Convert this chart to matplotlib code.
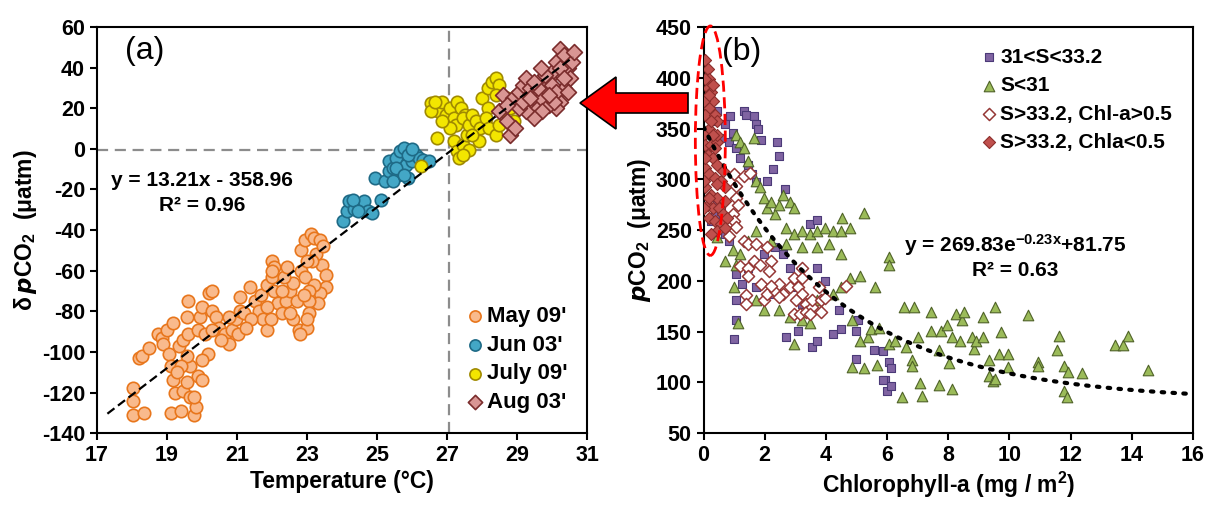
import matplotlib
matplotlib.use('Agg')
import matplotlib.pyplot as plt
from matplotlib.patches import Ellipse, FancyArrow
import numpy as np

plt.rcParams['font.family'] = ['Liberation Sans', 'DejaVu Sans']
plt.rcParams['font.weight'] = 'bold'
plt.rcParams['mathtext.default'] = 'regular'
plt.rcParams['axes.unicode_minus'] = False

# ---- panel (a) data: temperature vs delta pCO2 ----
may_t = [18.03, 18.03, 18.03, 18.34, 18.2, 18.3, 18.5, 18.74, 18.85, 19.0, 19.18, 18.9, 19.07, 19.12,
         19.18, 19.23, 19.12, 19.4, 19.45, 19.56, 19.67, 19.78, 19.83, 19.78, 19.9, 20.0, 19.67, 19.56,
         19.34, 19.45, 19.6, 19.6, 19.56, 19.9, 19.95, 20.0, 20.1, 20.16, 20.0, 19.4, 19.3, 20.2, 20.3,
         20.3, 20.4, 20.5, 20.65, 20.76, 20.87, 20.98, 21.08, 21.08, 21.2, 21.36, 21.52, 21.63, 21.74,
         21.85, 21.68, 21.85, 22.0, 22.06, 22.0, 22.06, 22.17, 22.28, 22.4, 22.5, 22.6, 22.72, 22.77,
         22.6, 22.83, 22.94, 22.83, 22.94, 23.1, 23.2, 23.37, 23.26, 23.43, 23.54, 23.54, 23.37, 23.32,
         23.2, 23.05, 23.05, 23.05, 23.0, 23.0, 23.15, 20.3, 20.54, 21.03, 21.4, 20.76, 21.25, 21.85,
         22.33, 22.44, 22.28, 22.5, 21.96, 22.8, 22.0, 23.45, 23.0, 22.9]
may_d = [-118, -124, -131, -130, -103, -102, -98, -91, -93, -89, -86, -96, -101, -107,
         -114, -120, -130, -129, -119, -115, -122, -131, -127, -122, -112, -114, -107, -102,
         -97, -94, -91, -75, -83, -89, -83, -78, -91, -101, -104, -107, -110, -71, -70,
         -80, -83, -88, -91, -96, -89, -84, -80, -73, -81, -68, -75, -80, -84,
         -89, -72, -67, -55, -58, -63, -70, -76, -81, -75, -70, -66, -75, -89,
         -84, -60, -63, -50, -45, -42, -44, -45, -52, -57, -62, -68, -71, -76,
         -67, -70, -75, -81, -88, -84, -55, -89, -94, -91, -84, -83, -88, -78,
         -63, -58, -70, -81, -84, -91, -60, -48, -55, -72]

jun_t = [24.03, 24.14, 24.19, 24.35, 24.52, 24.63, 24.73, 24.84, 24.3, 24.45, 24.95, 25.12, 25.22,
         25.33, 25.33, 25.44, 25.55, 25.65, 25.77, 25.6, 25.7, 25.82, 25.88, 26.0, 26.1, 26.2, 26.31,
         26.48, 25.44, 25.55, 25.88, 25.77, 26.0]
jun_d = [-35.5, -30.6, -25.7, -29.8, -28, -25.7, -30.6, -31.4, -25, -30.6, -14.3, -25, -16,
         -11, -6, -9.4, -4.5, -1.2, 0.4, -12.7, -11, -7.8, -14.3, -6, -2.9, -4.5, -5.3,
         -6, -16, -9.4, -2.9, -12.7, 0]

jul_t = [26.26, 26.53, 26.64, 26.75, 26.86, 26.7, 26.97, 27.08, 27.18, 27.24, 27.29, 27.4, 27.5,
         27.45, 27.18, 27.29, 27.35, 27.45, 27.56, 27.62, 27.72, 27.83, 27.94, 27.9, 27.62, 27.99,
         28.16, 28.27, 28.38, 28.49, 28.38, 28.16, 28.1, 28.2, 28.38, 28.49, 28.6, 28.7, 28.8, 28.9,
         27.72, 27.45, 27.08, 26.86, 26.53, 26.64]
jul_d = [-8.6, 22.4, 20, 18.4, 23.3, 5.3, 16.7, 20, 15, 11.8, 23.3, 20, 16.7,
         15, 3.7, -1.2, -4.5, 2, 7, 11.8, 16.7, 13.5, 10.2, 3.7, -0.4, 24.9,
         29.8, 33, 34.7, 31.4, 26.5, 20, 15, 10.2, 7, 11.8, 18.4, 24.9, 20, 13.5,
         7, -2.9, 10.2, 13.5, 18.4, 23.3]

aug_t = [28.49, 28.6, 28.7, 28.8, 28.87, 29.04, 29.15, 29.26, 29.36, 29.47, 29.58, 29.69, 29.8,
         29.9, 30.0, 30.11, 30.22, 30.33, 30.44, 30.56, 30.62, 30.5, 30.33, 30.22, 30.1, 29.9,
         29.7, 29.47, 29.26, 29.04, 28.93, 29.15, 29.36, 29.58, 29.8, 30.0, 30.11, 30.22, 30.33,
         30.44, 28.7, 29.47, 29.69, 30.05, 29.9]
aug_d = [18.4, 26.5, 13.5, 7, 24.9, 28.2, 31.4, 34.7, 29.8, 24.9, 20, 24.9, 29.8,
         34.7, 38, 42.9, 49.4, 46.1, 39.6, 42.9, 47.8, 34.7, 29.8, 23.3, 20, 21.6,
         18.4, 15, 18.4, 20, 10.2, 23.3, 24.9, 29.8, 36.3, 31.4, 28.2, 39.6, 34.7,
         28.2, 21.6, 33, 39.6, 23.3, 26.5]

lin_slope, lin_icpt = 13.21, -358.96
lin_x = [17.3, 30.6]

# ---- panel (b) data: chlorophyll-a vs pCO2 ----
mid_c = [1.33, 1.39, 1.64, 1.7, 1.77, 1.89, 2.4, 2.46, 2.27, 2.08, 2.65, 0.88, 0.69, 0.95, 0.57,
         0.82, 1.07, 1.2, 1.45, 1.58, 1.7, 0.44, 0.32, 0.44, 0.38, 0.25, 0.57, 0.69, 0.82,
         1.07, 1.05, 1.05, 1.01, 1.26, 1.45, 1.96, 2.34, 2.59, 2.84, 2.71, 3.09, 3.47, 3.72,
         3.72, 3.98, 3.54, 3.72, 4.23, 4.42, 4.48, 4.99, 5.05, 4.99, 5.56, 5.87, 6.06, 6.12,
         5.93, 5.99, 5.87, 6.12, 3.22, 2.97, 2.27, 1.7]
mid_p = [367, 363, 362, 354, 350, 339, 337, 323, 310, 298, 290, 362, 354, 346, 341,
         337, 331, 321, 314, 305, 297, 367, 357, 279, 266, 259, 269, 246, 239,
         207, 181, 161, 143, 197, 213, 226, 233, 226, 213, 145, 151, 256, 260,
         213, 200, 135, 141, 148, 171, 153, 151, 161, 123, 132, 131, 120, 114,
         102, 92, 102, 96, 177, 194, 187, 194]

low_c = [0.44, 0.69, 0.95, 1.07, 1.2, 1.33, 1.45, 1.64, 1.7, 1.83, 1.96, 2.08, 2.21, 2.34, 2.46,
         2.59, 2.84, 2.97, 2.71, 2.97, 3.22, 3.47, 3.72, 3.98, 4.23, 4.48, 4.54, 4.8, 5.24, 4.1,
         4.48, 3.72, 3.22, 2.71, 2.21, 1.7, 1.45, 1.2, 1.07, 1.01, 1.14, 1.7, 1.96, 2.46, 2.97,
         2.84, 3.22, 3.47, 3.72, 4.23, 4.48, 4.8, 5.12, 5.62, 6.05, 6.05, 4.86, 5.12, 5.37, 5.49,
         5.74, 6.05, 6.25, 4.86, 5.24, 5.68, 6.5, 6.63, 6.57, 6.88, 6.82, 6.82, 7.01, 7.07, 7.13,
         7.45, 7.45, 7.7, 7.7, 7.77, 7.95, 8.02, 8.14, 8.14, 8.27, 8.4, 8.46, 8.52, 8.78, 8.84,
         8.9, 9.15, 9.15, 9.34, 9.34, 9.47, 9.53, 9.66, 9.72, 9.97, 9.97, 10.6, 10.92, 10.92,
         11.62, 11.55, 11.8, 11.8, 11.87, 11.93, 12.37, 13.45, 13.7, 13.89, 14.52, 9.53]
low_p = [243, 220, 230, 344, 337, 331, 318, 341, 298, 292, 282, 272, 278, 266, 275,
         285, 278, 272, 252, 246, 249, 246, 249, 252, 249, 249, 262, 252, 267, 236,
         226, 233, 233, 236, 239, 249, 239, 226, 216, 194, 158, 181, 171, 171, 138,
         164, 161, 158, 181, 187, 194, 203, 205, 194, 223, 216, 161, 141, 145, 153,
         154, 138, 141, 115, 114, 117, 86, 135, 174, 174, 122, 116, 145, 99, 87,
         169, 151, 132, 97, 151, 157, 119, 145, 93, 167, 141, 161, 169, 145, 133,
         141, 164, 145, 122, 106, 101, 174, 128, 150, 128, 115, 166, 120, 116,
         146, 132, 116, 92, 86, 110, 109, 137, 137, 146, 112, 103]

hi_open_c = [1.01, 1.33, 1.52, 1.07, 1.07, 1.14, 0.95, 1.01, 1.07, 0.82, 1.33, 1.45, 1.7, 2.08,
             1.2, 1.45, 1.45, 1.64, 1.83, 2.21, 2.15, 1.39, 1.39, 1.89, 1.96, 2.08, 2.34, 2.46,
             2.59, 2.84, 2.97, 3.22, 3.22, 3.09, 3.22, 3.34, 2.97, 3.16, 3.35, 3.54, 3.54, 3.79,
             3.85, 3.98, 3.85, 4.67, 3.47, 3.03, 2.46, 2.21]
hi_open_p = [305, 303, 306, 293, 282, 275, 266, 259, 253, 244, 239, 236, 236, 233,
             215, 213, 205, 220, 216, 220, 210, 186, 177, 197, 181, 187, 190, 197,
             187, 194, 203, 213, 203, 194, 187, 177, 167, 167, 169, 174, 181, 194,
             181, 183, 169, 195, 167, 181, 184, 195]

hi_fill_c = [0.06, 0.13, 0.19, 0.13, 0.25, 0.32, 0.19, 0.06, 0.38, 0.44, 0.19, 0.0, 0.06, 0.25,
             0.44, 0.13, 0.32, 0.44, 0.06, 0.19, 0.38, 0.57, 0.69, 0.06, 0.25, 0.44, 0.13, 0.32,
             0.5, 0.63, 0.19, 0.38, 0.57, 0.44, 0.25, 0.06, 0.32, 0.0, 0.25, 0.44, 0.06, 0.63,
             0.44, 0.19, 0.69, 0.0, 0.0, 0.76, 0.69, 0.32, 0.19, 0.38]
hi_fill_p = [417, 409, 399, 390, 386, 377, 370, 363, 363, 357, 350, 344, 334, 334,
             337, 324, 321, 314, 311, 305, 301, 298, 292, 292, 285, 282, 275, 272,
             272, 266, 262, 259, 256, 249, 246, 399, 393, 377, 357, 344, 321, 308,
             295, 282, 279, 298, 272, 262, 252, 344, 383, 331]

exp_a, exp_k, exp_c = 269.83, -0.23, 81.75

fig = plt.figure(figsize=(12.11, 5.09), dpi=100)
ax1 = fig.add_axes([0.080, 0.149, 0.405, 0.798])
ax2 = fig.add_axes([0.581, 0.149, 0.404, 0.798])

# panel (a)
ax1.axvline(27.05, color='#8c8c8c', ls=(0, (5, 3)), lw=1.6, zorder=1)
ax1.axhline(-0.5, color='#8c8c8c', ls=(0, (5, 3)), lw=1.6, zorder=1)
ax1.scatter(may_t, may_d, s=80, marker='o', fc='#F9BA8C', ec='#E8761C', lw=1.2, label="May 09'", zorder=3)
ax1.scatter(jun_t, jun_d, s=80, marker='o', fc='#43A7C6', ec='#1E6A86', lw=1.2, label="Jun 03'", zorder=3)
ax1.scatter(jul_t, jul_d, s=80, marker='o', fc='#F3E600', ec='#A08A00', lw=1.2, label="July 09'", zorder=3)
ax1.scatter(aug_t, aug_d, s=65, marker='D', fc='#D99694', ec='#7A2C2C', lw=1.2, label="Aug 03'", zorder=3)
lx = np.array(lin_x)
ax1.plot(lx, lin_slope * lx + lin_icpt, color='black', ls=(0, (4, 2)), lw=1.6, zorder=4)
ax1.set_xlim(17, 31)
ax1.set_ylim(-140, 60)
ax1.set_xticks(range(17, 32, 2))
ax1.set_yticks(range(-140, 61, 20))
ax1.set_xlabel('Temperature (°C)', fontsize=16.5, fontweight='bold', labelpad=3)
ax1.set_ylabel(r'$\delta\,\mathit{p}$CO$_2$  ($\mu$atm)', fontsize=16.5, fontweight='bold', labelpad=2)
ax1.text(17.8, 48, '(a)', fontsize=23, fontweight='normal', va='center')
ax1.text(20.0, -15.5, 'y = 13.21x - 358.96', fontsize=15, fontweight='bold', ha='center', va='center')
ax1.text(20.0, -28, 'R² = 0.96', fontsize=15, fontweight='bold', ha='center', va='center')
ax1.legend(loc='lower right', frameon=False, handletextpad=0.05, markerscale=0.9,
           borderaxespad=0.5, labelspacing=0.35, handlelength=1.0, prop={'weight': 'bold', 'size': 16})

# panel (b)
ax2.scatter(mid_c, mid_p, s=40, marker='s', fc='#8064A2', ec='#4B3A78', lw=0.8, label='31<S<33.2', zorder=3)
ax2.scatter(low_c, low_p, s=58, marker='^', fc='#9BBB59', ec='#4F6228', lw=0.8, label='S<31', zorder=3)
ax2.scatter(hi_open_c, hi_open_p, s=38, marker='D', fc='white', ec='#953735', lw=1.1, label='S>33.2, Chl-a>0.5', zorder=4)
ax2.scatter(hi_fill_c, hi_fill_p, s=38, marker='D', fc='#C0504D', ec='#8C2D2B', lw=0.8, label='S>33.2, Chla<0.5', zorder=4)
ex = np.linspace(0, 16, 200)
ax2.plot(ex, exp_a * np.exp(exp_k * ex) + exp_c, color='black', ls=(0, (0.6, 2.0)), lw=3,
         dash_capstyle='round', zorder=5)
ax2.add_patch(Ellipse((0.22, 338), 0.98, 226, fill=False, ec='red', ls=(0, (4, 2)), lw=2,
                      clip_on=False, zorder=6))
ax2.set_xlim(0, 16)
ax2.set_ylim(50, 450)
ax2.set_xticks(range(0, 17, 2))
ax2.set_yticks(range(50, 451, 50))
ax2.set_xlabel('Chlorophyll-a (mg / m$^2$)', fontsize=16.5, fontweight='bold', labelpad=3)
ax2.set_ylabel(r'$\mathit{p}$CO$_2$  ($\mu$atm)', fontsize=16.5, fontweight='bold', labelpad=2)
ax2.text(0.6, 425, '(b)', fontsize=23, fontweight='normal', va='center')
ax2.text(10.2, 235, 'y = 269.83e$^{-0.23x}$+81.75', fontsize=15, fontweight='bold', ha='center', va='center')
ax2.text(10.2, 210, 'R² = 0.63', fontsize=15, fontweight='bold', ha='center', va='center')
ax2.legend(loc='upper right', frameon=False, handletextpad=0.05, borderaxespad=0.6,
           labelspacing=0.45, handlelength=1.0, prop={'weight': 'bold', 'size': 15})

for ax in (ax1, ax2):
    for sp in ax.spines.values():
        sp.set_linewidth(1.5)
    ax.tick_params(direction='out', length=5, width=1.5, labelsize=15.5)
    for lab in ax.get_xticklabels() + ax.get_yticklabels():
        lab.set_fontweight('bold')

# red arrow linking the two panels
fig.add_artist(FancyArrow(6.88, 4.06, -0.72, 0, width=0.20, head_width=0.52, head_length=0.36,
                          length_includes_head=False, fc='#FF0000', ec='black', lw=1.2,
                          transform=fig.dpi_scale_trans, zorder=10))

plt.savefig('out.png', dpi=100)
